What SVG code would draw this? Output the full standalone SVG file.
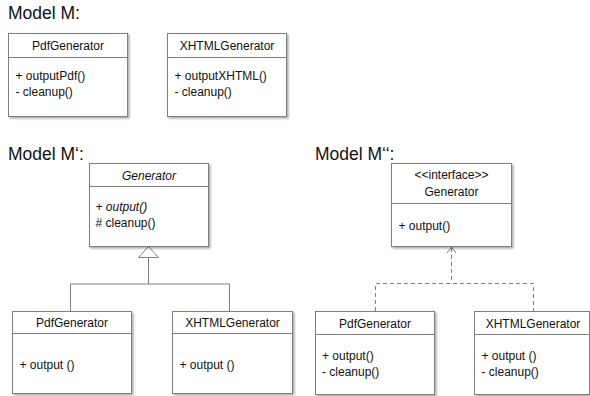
<svg xmlns="http://www.w3.org/2000/svg" width="590" height="396" viewBox="0 0 590 396">
<defs>
<filter id="sh" x="-10%" y="-10%" width="130%" height="130%">
<feDropShadow dx="1.5" dy="1.5" stdDeviation="0.8" flood-color="#000" flood-opacity="0.35"/>
</filter>
<marker id="open" markerWidth="12" markerHeight="12" refX="6" refY="1" orient="auto-start-reverse" markerUnits="userSpaceOnUse" viewBox="0 0 12 12">
</marker>
</defs>
<style>
text{font-family:"Liberation Sans",Arial,sans-serif;fill:#111}
.h{font-size:17.5px}
.t{font-size:12px;text-anchor:middle}
.m{font-size:12px}
.i{font-style:italic}
.box{fill:#fff;stroke:#7f7f7f;stroke-width:1;filter:url(#sh)}
.sep{stroke:#7f7f7f;stroke-width:1;fill:none}
.c{stroke:#7f7f7f;stroke-width:1;fill:none}
.d{stroke:#7f7f7f;stroke-width:1;fill:none;stroke-dasharray:4,3}
</style>
<rect width="590" height="396" fill="#fff"/>

<text class="h" x="8" y="19">Model M:</text>
<text class="h" x="8" y="160">Model M‘:</text>
<text class="h" x="315" y="160">Model M‘‘:</text>

<g id="connectors">
<path class="c" d="M148.5 257V284M70.5 311V284H229.5V311"/>
<path d="M148.5 246.5L138.5 257.5H158.5Z" fill="#fff" stroke="#7f7f7f" stroke-width="1"/>
<path class="d" d="M451.5 248V283.5M375.5 311V283.5H533.5V311"/>
<path class="c" d="M447 253L451.5 247L456 253"/>
</g>

<g id="m_pdf">
<rect class="box" x="8.5" y="33.5" width="119" height="83"/>
<line class="sep" x1="8.5" y1="57.5" x2="127.5" y2="57.5"/>
<text class="t" x="68" y="50">PdfGenerator</text>
<text class="m" x="15.5" y="80">+ outputPdf()</text>
<text class="m" x="15.5" y="96">- cleanup()</text>
</g>

<g id="m_xhtml">
<rect class="box" x="167.5" y="33.5" width="119" height="83"/>
<line class="sep" x1="167.5" y1="57.5" x2="286.5" y2="57.5"/>
<text class="t" x="227" y="50">XHTMLGenerator</text>
<text class="m" x="174.5" y="80">+ outputXHTML()</text>
<text class="m" x="174.5" y="96">- cleanup()</text>
</g>

<g id="m1_generator">
<rect class="box" x="89.5" y="163.5" width="119" height="83"/>
<line class="sep" x1="89.5" y1="186.5" x2="208.5" y2="186.5"/>
<text class="t i" x="149" y="179.5">Generator</text>
<text class="m i" x="95.5" y="211">+ output()</text>
<text class="m" x="95.5" y="227"># cleanup()</text>
</g>

<g id="m1_pdf">
<rect class="box" x="12.5" y="311.5" width="119" height="82"/>
<line class="sep" x1="12.5" y1="333.5" x2="131.5" y2="333.5"/>
<text class="t" x="72" y="327">PdfGenerator</text>
<text class="m" x="19.5" y="369">+ output ()</text>
</g>

<g id="m1_xhtml">
<rect class="box" x="172.5" y="311.5" width="120" height="82"/>
<line class="sep" x1="172.5" y1="333.5" x2="292.5" y2="333.5"/>
<text class="t" x="232.5" y="327">XHTMLGenerator</text>
<text class="m" x="179.5" y="369">+ output ()</text>
</g>

<g id="m2_interface">
<rect class="box" x="391.5" y="163.5" width="120" height="83"/>
<line class="sep" x1="391.5" y1="203.5" x2="511.5" y2="203.5"/>
<text class="t" x="451.5" y="178.5">&lt;&lt;interface&gt;&gt;</text>
<text class="t" x="451.5" y="196">Generator</text>
<text class="m" x="398.5" y="230">+ output()</text>
</g>

<g id="m2_pdf">
<rect class="box" x="315.5" y="311.5" width="119" height="83"/>
<line class="sep" x1="315.5" y1="334.5" x2="434.5" y2="334.5"/>
<text class="t" x="375" y="327.5">PdfGenerator</text>
<text class="m" x="322" y="360">+ output()</text>
<text class="m" x="322" y="376">- cleanup()</text>
</g>

<g id="m2_xhtml">
<rect class="box" x="474.5" y="311.5" width="115" height="83"/>
<line class="sep" x1="474.5" y1="334.5" x2="589.5" y2="334.5"/>
<text class="t" x="533" y="327.5">XHTMLGenerator</text>
<text class="m" x="481.5" y="360">+ output ()</text>
<text class="m" x="481.5" y="376">- cleanup()</text>
</g>
</svg>
